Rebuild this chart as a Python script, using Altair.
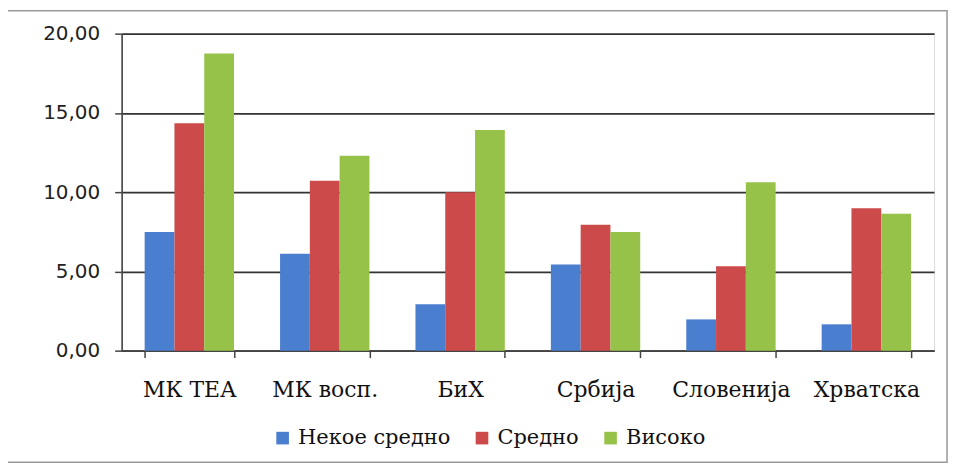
import altair as alt
import pandas as pd

categories = ["МК ТЕА", "МК восп.", "БиХ", "Србија", "Словенија", "Хрватска"]
series = ["Некое средно", "Средно", "Високо"]
nekoe_sredno = [7.48, 6.12, 2.92, 5.43, 1.97, 1.66]
sredno = [14.34, 10.72, 10.00, 7.95, 5.33, 8.99]
visoko = [18.74, 12.29, 13.92, 7.48, 10.63, 8.64]
colors = ["#4A7ECF", "#CC4A4A", "#97C24A"]
y_ticks = [0, 5, 10, 15, 20]

SERIF = "DejaVu Serif"

rows = []
for s, vals in zip(series, [nekoe_sredno, sredno, visoko]):
    for c, v in zip(categories, vals):
        rows.append({"cat": c, "series": s, "value": v})
df = pd.DataFrame(rows)

bars = alt.Chart(df).mark_bar().encode(
    x=alt.X(
        "cat:N",
        sort=categories,
        title=None,
        scale=alt.Scale(paddingInner=0.34, paddingOuter=0.17),
        axis=alt.Axis(
            labelAngle=0,
            labelFont=SERIF,
            labelFontSize=22,
            labelColor="#111",
            labelPadding=22,
            tickBand="extent",
            tickSize=7,
            tickColor="#444",
            tickWidth=1.5,
            domainColor="#444",
            domainWidth=1.6,
            grid=False,
        ),
    ),
    xOffset=alt.XOffset("series:N", sort=series),
    y=alt.Y(
        "value:Q",
        title=None,
        scale=alt.Scale(domain=[0, 20], nice=False),
        axis=alt.Axis(
            values=y_ticks,
            labelExpr="replace(format(datum.value, '.2f'), '.', ',')",
            labelFont="DejaVu Sans",
            labelFontSize=20,
            labelColor="#222",
            labelPadding=15,
            tickSize=7,
            tickColor="#444",
            tickWidth=1.5,
            domainColor="#444",
            domainWidth=1.6,
            grid=True,
            gridColor="#333",
            gridWidth=1.6,
        ),
    ),
    color=alt.Color(
        "series:N",
        sort=series,
        scale=alt.Scale(domain=series, range=colors),
        legend=alt.Legend(
            title=None,
            orient="none",
            direction="horizontal",
            legendX=151,
            legendY=395,
            symbolType="square",
            symbolSize=160,
            symbolStrokeWidth=0,
            labelFont=SERIF,
            labelFontSize=21,
            labelColor="#111",
            labelOffset=5,
            columnPadding=21,
            padding=0,
        ),
    ),
)

frame = alt.Chart(pd.DataFrame({"a": [0]})).mark_rect(
    fill=None, stroke="#999", strokeWidth=1.5
).encode(
    x=alt.value(-115), x2=alt.value(828), y=alt.value(-23), y2=alt.value(430)
)

chart = alt.layer(frame, bars).properties(
    width=815,
    height=318,
    autosize=alt.AutoSizeParams(type="none"),
    padding={"left": 114, "top": 25, "right": 16, "bottom": 113},
).configure_view(stroke=None).configure(background="white")

chart.save("out.html", embed_options={"renderer": "svg", "actions": False})
